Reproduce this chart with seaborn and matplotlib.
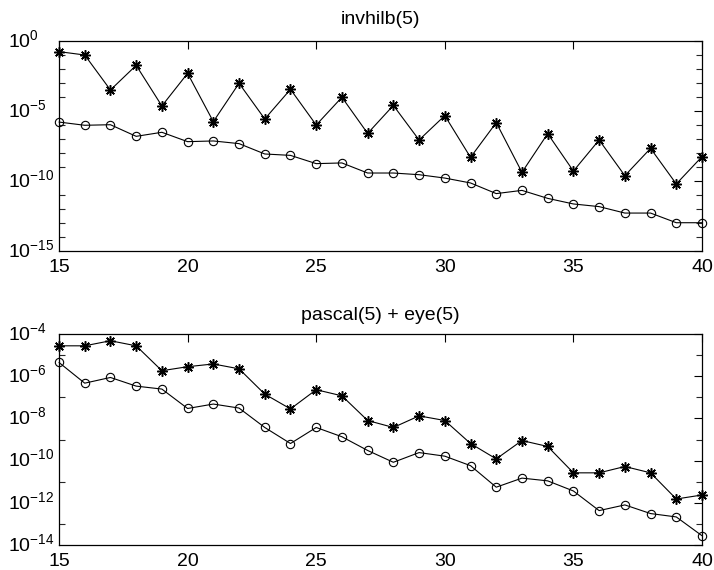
import numpy as np
import matplotlib
matplotlib.use("Agg")
import matplotlib.pyplot as plt
import matplotlib.transforms as mtransforms
import seaborn as sns
from matplotlib.ticker import FixedLocator, LogFormatterSciNotation, NullFormatter

# ---- data (log10 of the plotted values) ----
n = list(range(15, 41))

top_title = "invhilb(5)"
top_star_log10 = [-0.76, -1.00, -3.50, -1.74, -4.64, -2.31, -5.76, -3.02, -5.57, -3.45,
                  -6.00, -4.02, -6.60, -4.60, -7.07, -5.33, -8.31, -5.83, -9.38, -6.62,
                  -9.29, -7.07, -9.62, -7.67, -10.21, -8.26]
top_circ_log10 = [-5.79, -6.02, -5.98, -6.81, -6.52, -7.19, -7.14, -7.33, -8.07, -8.17,
                  -8.76, -8.71, -9.43, -9.43, -9.55, -9.79, -10.14, -10.90, -10.67, -11.24,
                  -11.64, -11.83, -12.29, -12.29, -12.98, -12.98]

bot_title = "pascal(5) + eye(5)"
bot_star_log10 = [-4.56, -4.56, -4.32, -4.56, -5.74, -5.55, -5.42, -5.65, -6.85, -7.55,
                  -6.64, -6.93, -8.10, -8.43, -7.88, -8.10, -9.19, -9.92, -9.05, -9.33,
                  -10.58, -10.58, -10.28, -10.58, -11.82, -11.63]
bot_circ_log10 = [-5.35, -6.33, -6.06, -6.47, -6.61, -7.53, -7.32, -7.51, -8.43, -9.19,
                  -8.43, -8.87, -9.52, -10.08, -9.62, -9.79, -10.24, -11.26, -10.83, -10.96,
                  -11.44, -12.37, -12.10, -12.51, -12.67, -13.56]

x_ticks = [15, 20, 25, 30, 35, 40]
top_major_exp = [0, -5, -10, -15]
top_minor_exp = list(range(0, -16, -1))
bot_major_exp = [-4, -6, -8, -10, -12, -14]
bot_minor_exp = list(range(-4, -15, -1))

# ---- style ----
sns.set_theme(style="white")
plt.rcParams["font.family"] = ["Liberation Sans", "DejaVu Sans"]
plt.rcParams["mathtext.fontset"] = "custom"
plt.rcParams["mathtext.rm"] = "Liberation Sans"
plt.rcParams["mathtext.it"] = "Liberation Sans:italic"
plt.rcParams["mathtext.bf"] = "Liberation Sans:bold"

fig = plt.figure(figsize=(7.14, 5.70), dpi=100)
ax_top = fig.add_axes([59 / 714, 1 - 251 / 570, (702 - 59) / 714, (251 - 41) / 570])
ax_bot = fig.add_axes([59 / 714, 1 - 545 / 570, (702 - 59) / 714, (545 - 334) / 570])

star = (8, 2, 0)
lift = mtransforms.ScaledTranslation(0, 3 / 100, fig.dpi_scale_trans)


def draw(ax, title, star_log, circ_log, major_exp, minor_exp, tpad):
    ys = np.power(10.0, star_log)
    yc = np.power(10.0, circ_log)
    sns.lineplot(x=n, y=ys, ax=ax, color="black", lw=0.8, marker=star,
                 markersize=7.5, markeredgewidth=1.1, markeredgecolor="black",
                 clip_on=False, zorder=3)
    sns.lineplot(x=n, y=yc, ax=ax, color="black", lw=0.8, marker="o",
                 markersize=6, markerfacecolor="none", markeredgewidth=0.8,
                 markeredgecolor="black", clip_on=False, zorder=3)
    ax.set_yscale("log")
    ax.set_xlim(15, 40)
    ax.set_ylim(10.0 ** min(minor_exp), 10.0 ** max(minor_exp))
    ax.xaxis.set_major_locator(FixedLocator(x_ticks))
    ax.yaxis.set_major_locator(FixedLocator([10.0 ** e for e in major_exp]))
    ax.yaxis.set_minor_locator(FixedLocator([10.0 ** e for e in minor_exp]))
    ax.yaxis.set_major_formatter(LogFormatterSciNotation())
    ax.yaxis.set_minor_formatter(NullFormatter())
    ax.tick_params(axis="both", which="major", direction="in", length=6, width=0.8,
                   top=True, right=True, labelsize=14, colors="black", pad=6)
    ax.tick_params(axis="y", which="major", pad=36.5)
    ax.tick_params(axis="y", which="minor", direction="in", length=4, width=0.8,
                   left=True, right=True)
    ax.tick_params(axis="x", which="minor", bottom=False, top=False)
    for lab in ax.yaxis.get_majorticklabels():
        lab.set_horizontalalignment("left")
        lab.set_transform(lab.get_transform() + lift)
    for s in ax.spines.values():
        s.set_color("black")
        s.set_linewidth(0.9)
    ax.set_title(title, fontsize=14, color="black", pad=tpad)
    ax.set_xlabel("")
    ax.set_ylabel("")
    ax.grid(False)


draw(ax_top, top_title, top_star_log10, top_circ_log10, top_major_exp, top_minor_exp, 12)
draw(ax_bot, bot_title, bot_star_log10, bot_circ_log10, bot_major_exp, bot_minor_exp, 10)

fig.savefig("out.png", dpi=100, facecolor="white")
